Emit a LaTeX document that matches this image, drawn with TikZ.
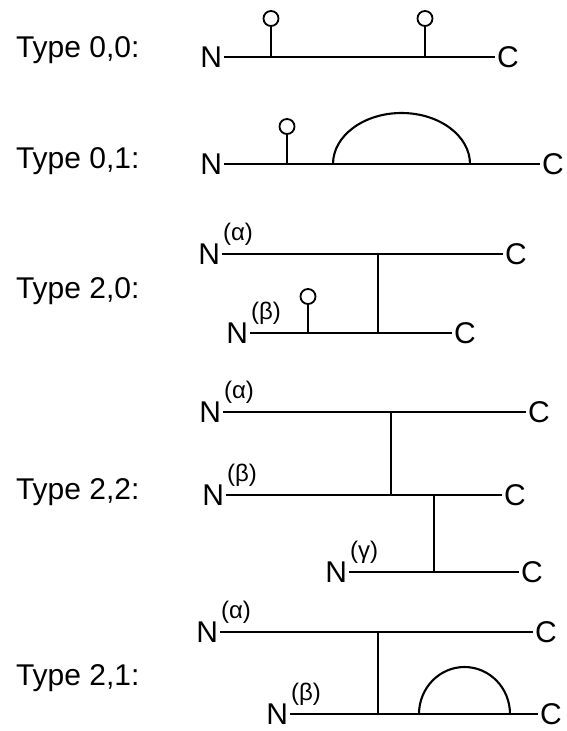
\documentclass[tikz,border=0pt]{standalone}
\usepackage{fontspec}
\setmainfont{Liberation Sans}
\begin{document}
\begin{tikzpicture}[x=1pt,y=1pt,line width=2.1pt,
	lbl/.style={font=\fontsize{30}{32}\selectfont,anchor=base west,inner sep=0},
	nend/.style={font=\fontsize{30}{32}\selectfont,inner sep=1pt,anchor=east},
	cend/.style={font=\fontsize{30}{32}\selectfont,inner sep=1pt,anchor=west},
	sup/.style={font=\fontsize{24}{26}\selectfont,inner sep=0,anchor=south west},
	pin/.style={line width=1.8pt}]
	\useasboundingbox(0,0)rectangle(566,-731);
	\node[lbl](t00)at(15,-57){Type 0,0:};
	\node[lbl](t01)at(15,-168){Type 0,1:};
	\node[lbl](t20)at(15,-298){Type 2,0:};
	\node[lbl](t22)at(15,-499){Type 2,2:};
	\node[lbl](t21)at(15,-685){Type 2,1:};
	\node[nend](n1)at(224,-57){N};
	\node[cend](c1)at(495,-57){C};
	\draw(n1.east)--(c1.west);
	\foreach\x in{271,425}\draw[pin](\x,-57)--++(0,31)++(0,7.5)circle(7.5);
	\node[nend](n2)at(224,-164){N};
	\node[cend](c2)at(540,-164){C};
	\draw(n2.east)--(c2.west);
	\draw[pin](287,-164)--++(0,30)++(0,7.5)circle(7.5);
	\draw(333,-164)arc(180:0:68.5 and 51);
	\node[nend](n3a)at(222,-254){N};
	\node[sup](s3a)at([yshift=7pt]n3a.east){(α)};
	\node[cend](c3a)at(503,-254){C};
	\draw(n3a.east)--(c3a.west);
	\node[nend](n3b)at(250,-333){N};
	\node[sup](s3b)at([yshift=7pt]n3b.east){(β)};
	\node[cend](c3b)at(452,-333){C};
	\draw(n3b.east)--(c3b.west);
	\coordinate(j3a)at(378,-254);
	\coordinate(j3b)at(378,-333);
	\draw(j3a)--(j3b);
	\draw[pin](308,-333)--++(0,29)++(0,7.5)circle(7.5);
	\node[nend](n4a)at(223,-412){N};
	\node[sup](s4a)at([yshift=7pt]n4a.east){(α)};
	\node[cend](c4a)at(526,-412){C};
	\draw(n4a.east)--(c4a.west);
	\node[nend](n4b)at(226,-495){N};
	\node[sup](s4b)at([yshift=7pt]n4b.east){(β)};
	\node[cend](c4b)at(502,-495){C};
	\draw(n4b.east)--(c4b.west);
	\node[nend](n4c)at(349,-572){N};
	\node[sup](s4c)at([yshift=7pt]n4c.east){(γ)};
	\node[cend](c4c)at(519,-572){C};
	\draw(n4c.east)--(c4c.west);
	\coordinate(j4a)at(391,-412);
	\coordinate(j4b)at(391,-495);
	\coordinate(j4c)at(434,-495);
	\coordinate(j4d)at(434,-572);
	\draw(j4a)--(j4b);
	\draw(j4c)--(j4d);
	\node[nend](n5a)at(220,-632){N};
	\node[sup](s5a)at([yshift=7pt]n5a.east){(α)};
	\node[cend](c5a)at(533,-632){C};
	\draw(n5a.east)--(c5a.west);
	\node[nend](n5b)at(290,-714){N};
	\node[sup](s5b)at([yshift=7pt]n5b.east){(β)};
	\node[cend](c5b)at(538,-714){C};
	\draw(n5b.east)--(c5b.west);
	\coordinate(j5a)at(378,-632);
	\coordinate(j5b)at(378,-714);
	\draw(j5a)--(j5b);
	\draw(419,-714)arc(180:0:45.5 and 47);
\end{tikzpicture}
\end{document}
